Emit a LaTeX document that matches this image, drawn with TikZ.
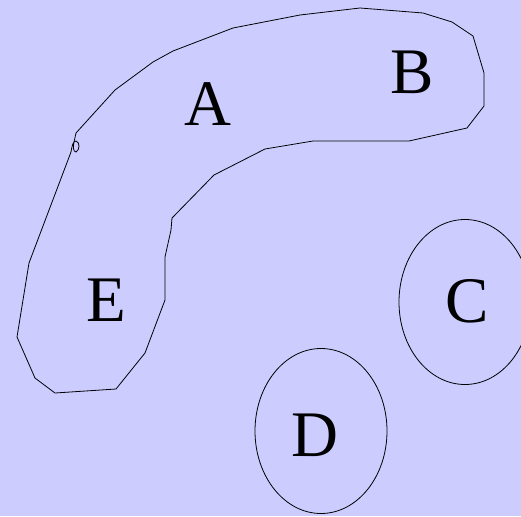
\documentclass[tikz,border=0pt]{standalone}
\usepackage{fontspec}
\setmainfont{Liberation Serif}
\usetikzlibrary{shapes.geometric}
\definecolor{lavender}{HTML}{CCCCFF}

\begin{document}
\begin{tikzpicture}[x=1pt, y=-1pt, line width=0.8pt,
  every node/.style={font=\fontsize{65}{70}\selectfont, inner sep=0pt},
  ring/.style={draw, ellipse, minimum width=132pt, minimum height=165pt}]
\useasboundingbox[fill=lavender] (0,0) rectangle (521,516);
\clip (0,0) rectangle (521,516);
% the long region holding A, B and E
\draw (76,133) -- (115,90) -- (153,62) -- (173,51) -- (233,28) -- (300,15)
  -- (360,8) -- (423,13) -- (452,22) -- (473,36) -- (484,73) -- (484,106)
  -- (467,128) -- (409,141) -- (313,141) -- (265,149) -- (214,175)
  -- (172,218) -- (171,230) -- (165,257) -- (165,300) -- (145,353)
  -- (116,389) -- (55,393) -- (35,378) -- (17,337) -- (29,263) -- (71,152)
  .. controls (72,146) and (73,141) .. (76,141)
  .. controls (80,142) and (80,150) .. (76,152)
  .. controls (73,152) and (73,146) .. (74,142) -- (76,133);
\node[ring] (c) at (465,302) {};
\node[ring] (d) at (321,431) {};
\node (a) at (208,104) {A};
\node (b) at (412,72) {B};
\node (e) at (106,300) {E};
\node (clabel) at (467,301) {C};
\node (dlabel) at (315,435) {D};
\end{tikzpicture}
\end{document}
